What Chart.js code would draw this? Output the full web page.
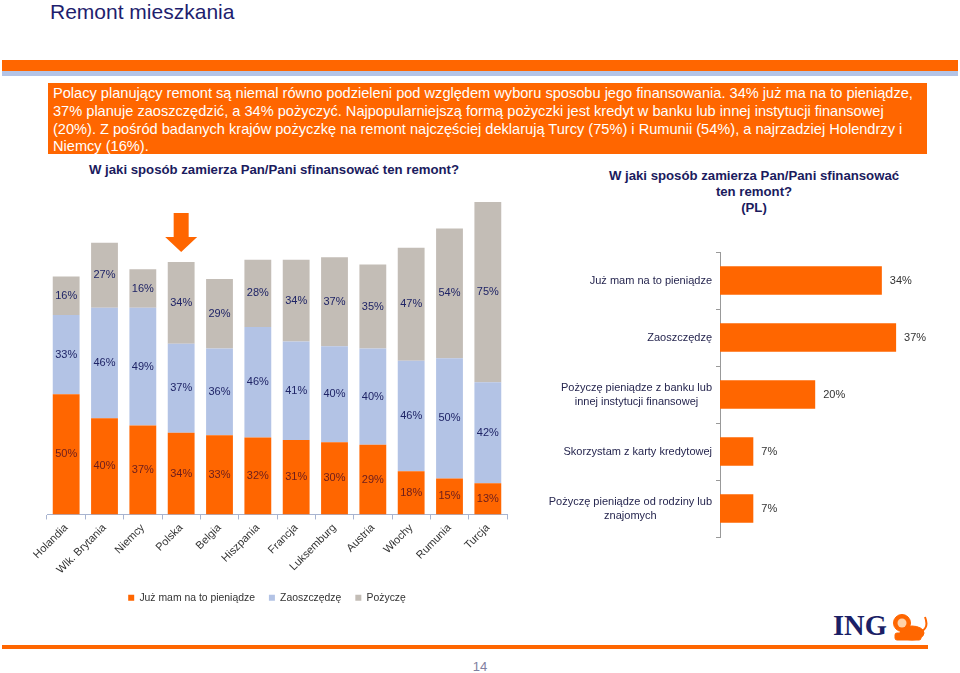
<!DOCTYPE html>
<html>
<head>
<meta charset="utf-8">
<script src="https://cdn.jsdelivr.net/npm/chart.js@4.4.0/dist/chart.umd.min.js"></script>
<style>
  body { margin: 0; width: 960px; height: 673px; overflow: hidden; background: #fff; font-family: "Liberation Sans", Arial, sans-serif; position: relative; }
  .abs { position: absolute; }
  #title { left: 50px; top: 1px; font-size: 21px; line-height: 21px; color: #1e1e6e; }
  #band1 { left: 2px; top: 60px; width: 956px; height: 11px; background: #ff6600; }
  #band2 { left: 2px; top: 71px; width: 956px; height: 5px; background: #b4c4e6; }
  #box { left: 48px; top: 83px; width: 874px; height: 69px; padding-top: 2px; background: #ff6600; color: #fff; font-size: 14.6px; line-height: 17.8px; padding-left: 5px; white-space: nowrap; }
  .qt { font-weight: bold; font-size: 13.2px; color: #1b1b5e; text-align: center; line-height: 16px; }
  #q1 { left: 74px; width: 400px; top: 162px; }
  #q2 { left: 594px; width: 320px; top: 168px; }
  #c1 { left: 0; top: 180px; }
  #c2 { left: 530px; top: 240px; }
  #ing { left: 833px; top: 610px; font-family: "Liberation Serif", serif; font-weight: bold; font-size: 28.5px; color: #1b1f66; }
  #footline { left: 2px; top: 645px; width: 926px; height: 4px; background: #ff6600; }
  #page { left: 460px; width: 40px; top: 659px; text-align: center; font-size: 13px; color: #8080a0; }
</style>
</head>
<body>
<div id="title" class="abs">Remont mieszkania</div>
<div id="band1" class="abs"></div>
<div id="band2" class="abs"></div>
<div id="box" class="abs">Polacy planujący remont są niemal równo podzieleni pod względem wyboru sposobu jego finansowania. 34% już ma na to pieniądze,<br>37% planuje zaoszczędzić, a 34% pożyczyć. Najpopularniejszą formą pożyczki jest kredyt w banku lub innej instytucji finansowej<br>(20%). Z pośród badanych krajów pożyczkę na remont najczęściej deklarują Turcy (75%) i Rumunii (54%), a najrzadziej Holendrzy i<br>Niemcy (16%).</div>
<div id="q1" class="abs qt">W jaki sposób zamierza Pan/Pani sfinansować ten remont?</div>
<div id="q2" class="abs qt">W jaki sposób zamierza Pan/Pani sfinansować<br>ten remont?<br>(PL)</div>
<canvas id="c1" class="abs" width="534" height="445"></canvas>
<canvas id="c2" class="abs" width="430" height="305"></canvas>
<div id="ing" class="abs">ING</div>
<svg class="abs" style="left:892px;top:613px" width="38" height="30" viewBox="0 0 38 30">
  <g fill="#ff6600" stroke="#ff6600">
    <circle cx="10" cy="10" r="8.5"/>
    <ellipse cx="20" cy="20" rx="12" ry="7"/>
    <rect x="3" y="20" width="26" height="7" rx="2"/>
    <path d="M30 18 Q37 14 33 4" fill="none" stroke-width="2"/>
  </g>
  <circle cx="10" cy="10" r="4.5" fill="#ffd2a8"/>
</svg>
<div id="footline" class="abs"></div>
<div id="page" class="abs">14</div>

<script>
// dane - kraje
const countries = ['Holandia', 'Wlk. Brytania', 'Niemcy', 'Polska', 'Belgia', 'Hiszpania', 'Francja', 'Luksemburg', 'Austria', 'Włochy', 'Rumunia', 'Turcja'];
const alreadyHave = [50, 40, 37, 34, 33, 32, 31, 30, 29, 18, 15, 13];
const willSave = [33, 46, 49, 37, 36, 46, 41, 40, 40, 46, 50, 42];
const willBorrow = [16, 27, 16, 34, 29, 28, 34, 37, 35, 47, 54, 75];

// dane - Polska
const methods = ['Już mam na to pieniądze', 'Zaoszczędzę', ['Pożyczę pieniądze z banku lub', 'innej instytucji finansowej'], 'Skorzystam z karty kredytowej', ['Pożyczę pieniądze od rodziny lub', 'znajomych']];
const methodShares = [34, 37, 20, 7, 7];

const ORANGE = '#ff6600', BLUE = '#b3c3e5', GREY = '#c3bdb6';
const FONT = 'Liberation Sans, Arial, sans-serif';

// etykiety w srodku slupkow
const stackLabels = {
    id: 'stackLabels',
    afterDatasetsDraw(chart) {
        const ctx = chart.ctx;
        ctx.save();
        ctx.font = '11px ' + FONT;
        ctx.textAlign = 'center';
        ctx.textBaseline = 'middle';
        chart.data.datasets.forEach((ds, i) => {
            chart.getDatasetMeta(i).data.forEach((bar, j) => {
                ctx.fillStyle = i === 0 ? '#6b1d1d' : '#1f2466';
                ctx.fillText(ds.data[j] + '%', bar.x, (bar.y + bar.base) / 2);
            });
        });
        // strzalka nad Polska
        const idx = countries.indexOf('Polska');
        const x = chart.scales.x.getPixelForValue(idx);
        const tip = chart.scales.y.getPixelForValue(alreadyHave[idx] + willSave[idx] + willBorrow[idx]) - 10;
        ctx.fillStyle = ORANGE;
        ctx.beginPath();
        ctx.moveTo(x - 7.5, tip - 39);
        ctx.lineTo(x + 7.5, tip - 39);
        ctx.lineTo(x + 7.5, tip - 15);
        ctx.lineTo(x + 16, tip - 15);
        ctx.lineTo(x, tip);
        ctx.lineTo(x - 16, tip - 15);
        ctx.lineTo(x - 7.5, tip - 15);
        ctx.closePath();
        ctx.fill();
        ctx.restore();
    }
};

new Chart('c1', {
    type: 'bar',
    data: {
        labels: countries,
        datasets: [
            { label: 'Już mam na to pieniądze', data: alreadyHave, backgroundColor: ORANGE },
            { label: 'Zaoszczędzę', data: willSave, backgroundColor: BLUE },
            { label: 'Pożyczę', data: willBorrow, backgroundColor: GREY }
        ]
    },
    options: {
        responsive: false,
        animation: false,
        barPercentage: 0.7,
        categoryPercentage: 1,
        layout: { padding: { left: 27, right: 27, top: 10, bottom: 12 } },
        plugins: {
            legend: {
                position: 'bottom',
                labels: { boxWidth: 6, boxHeight: 6, padding: 14, color: '#333', font: { size: 10.4, family: FONT } }
            },
            tooltip: { enabled: false }
        },
        scales: {
            x: {
                stacked: true,
                grid: { drawOnChartArea: false, tickLength: 5, color: '#a8b4d0' },
                border: { color: '#a8b4d0' },
                ticks: { minRotation: 45, maxRotation: 45, padding: 2, color: '#333', font: { size: 11, family: FONT } }
            },
            y: {
                stacked: true, min: 0, max: 135,
                grid: { display: false },
                border: { display: false },
                ticks: { display: false },
                afterFit: (scale) => { scale.width = 20; }
            }
        }
    },
    plugins: [stackLabels]
});

// etykiety osi i wartosci dla wykresu poziomego
const hLabels = {
    id: 'hLabels',
    afterDraw(chart) {
        const ctx = chart.ctx;
        const y = chart.scales.y;
        ctx.save();
        ctx.font = '11px ' + FONT;
        ctx.textBaseline = 'middle';
        ctx.fillStyle = '#26264f';
        ctx.textAlign = 'center';
        const right = chart.chartArea.left - 8;
        methods.forEach((m, i) => {
            const lines = Array.isArray(m) ? m : [m];
            const w = Math.max(...lines.map(l => ctx.measureText(l).width));
            const cy = y.getPixelForValue(i);
            lines.forEach((l, k) => {
                ctx.fillText(l, right - w / 2, cy + (k - (lines.length - 1) / 2) * 14);
            });
        });
        ctx.textAlign = 'left';
        ctx.fillStyle = '#333';
        chart.getDatasetMeta(0).data.forEach((bar, i) => {
            ctx.fillText(methodShares[i] + '%', bar.x + 8, bar.y);
        });
        ctx.restore();
    }
};

new Chart('c2', {
    type: 'bar',
    data: {
        labels: methods,
        datasets: [{ data: methodShares, backgroundColor: ORANGE, barPercentage: 0.5, categoryPercentage: 1 }]
    },
    options: {
        indexAxis: 'y',
        responsive: false,
        animation: false,
        layout: { padding: { left: 0, right: 2, top: 12, bottom: 8 } },
        plugins: { legend: { display: false }, tooltip: { enabled: false } },
        scales: {
            x: { display: false, min: 0, max: 50 },
            y: {
                grid: { drawOnChartArea: false, tickLength: 4, color: '#999' },
                border: { color: '#999' },
                ticks: { display: false },
                afterFit: (scale) => { scale.width = 190; }
            }
        }
    },
    plugins: [hLabels]
});
</script>
</body>
</html>
